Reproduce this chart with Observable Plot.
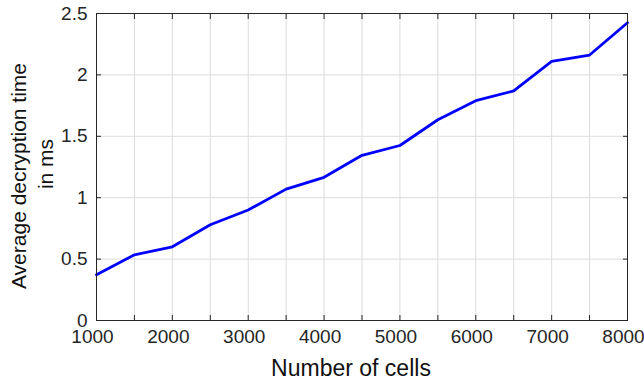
<!DOCTYPE html>
<html>
<head>
<meta charset="utf-8">
<script src="https://cdn.jsdelivr.net/npm/d3@7"></script>
<script src="https://cdn.jsdelivr.net/npm/@observablehq/plot@0.6"></script>
<style>
  html, body { margin: 0; padding: 0; background: #fff; }
</style>
</head>
<body>
<div id="chart"></div>
<script>
const cells = [1000, 1500, 2000, 2500, 3000, 3500, 4000, 4500, 5000, 5500, 6000, 6500, 7000, 7500, 8000];
const timeMs = [0.372, 0.535, 0.60, 0.78, 0.90, 1.07, 1.166, 1.345, 1.425, 1.635, 1.79, 1.87, 2.11, 2.162, 2.425];
const xTicks = [1000, 1500, 2000, 2500, 3000, 3500, 4000, 4500, 5000, 5500, 6000, 6500, 7000, 7500, 8000];
const xTickLabels = [1000, 2000, 3000, 4000, 5000, 6000, 7000, 8000];
const yTicks = [0, 0.5, 1, 1.5, 2, 2.5];
const xLabel = "Number of cells";
const yLabelLines = ["Average decryption time", "in ms"];

const data = cells.map((c, i) => ({cells: c, time: timeMs[i]}));
const axisColor = "#262626";
const font = "Liberation Sans, Arial, sans-serif";

const chart = Plot.plot({
  width: 644,
  height: 381,
  marginLeft: 96,
  marginRight: 17,
  marginTop: 13,
  marginBottom: 61,
  style: {fontFamily: font, fontSize: "19px", color: axisColor, background: "#fff"},
  x: {domain: [1000, 8000]},
  y: {domain: [0, 2.5]},
  marks: [
    Plot.gridX(xTicks, {stroke: "#dcdcdc", strokeOpacity: 1, strokeWidth: 1}),
    Plot.gridY(yTicks, {stroke: "#dcdcdc", strokeOpacity: 1, strokeWidth: 1}),
    Plot.line(data, {x: "cells", y: "time", stroke: "#0000ff", strokeWidth: 2.8}),
    Plot.frame({stroke: axisColor, strokeWidth: 1}),
    Plot.axisX(xTicks, {anchor: "bottom", tickSize: -5, text: null, label: null, stroke: axisColor}),
    Plot.axisX(xTicks, {anchor: "top", tickSize: -5, text: null, label: null, stroke: axisColor}),
    Plot.axisX(xTickLabels, {anchor: "bottom", tickSize: 0, tickPadding: 9, dx: -4, tickFormat: d => String(d), fill: axisColor,
      fontSize: 19, label: null}),
    Plot.text([xLabel], {frameAnchor: "bottom", textAnchor: "middle", lineAnchor: "bottom", dx: -11, dy: 55,
      fontSize: 23, fill: "#111", text: d => d}),
    Plot.axisY(yTicks, {anchor: "left", tickSize: -5, text: null, label: null, stroke: axisColor}),
    Plot.axisY(yTicks, {anchor: "right", tickSize: -5, text: null, label: null, stroke: axisColor}),
    Plot.axisY(yTicks, {anchor: "left", tickSize: 0, tickPadding: 9, tickFormat: d => String(d), fill: axisColor,
      fontSize: 19, label: null}),
    Plot.text([yLabelLines[0]], {frameAnchor: "left", textAnchor: "middle", lineAnchor: "middle", rotate: -90, dx: -77, dy: 9,
      fontSize: 21, fill: "#111", text: d => d}),
    Plot.text([yLabelLines[1]], {frameAnchor: "left", textAnchor: "middle", lineAnchor: "middle", rotate: -90, dx: -50, dy: -3,
      fontSize: 21, fill: "#111", text: d => d})
  ]
});
document.getElementById("chart").appendChild(chart);
</script>
</body>
</html>
